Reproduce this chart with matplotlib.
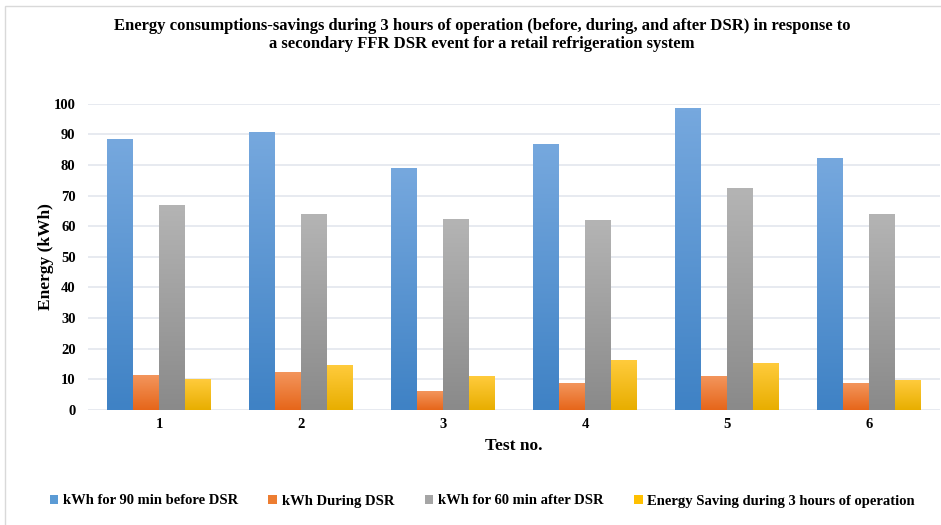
import numpy as np
import matplotlib
matplotlib.use("Agg")
import matplotlib.pyplot as plt
from matplotlib.colors import LinearSegmentedColormap
from matplotlib.patches import Rectangle, Patch

plt.rcParams['font.family'] = ['Liberation Serif', 'DejaVu Serif']
plt.rcParams['font.weight'] = 'bold'

tests = ['1', '2', '3', '4', '5', '6']
before_90 = [88.4, 90.7, 79.0, 86.7, 98.5, 82.0]
during = [11.4, 12.1, 5.9, 8.5, 11.0, 8.5]
after_60 = [66.9, 63.9, 62.3, 62.0, 72.2, 63.9]
saving = [9.8, 14.4, 10.8, 16.0, 15.3, 9.6]

series = [before_90, during, after_60, saving]
labels = ['kWh for 90 min before DSR', 'kWh During DSR',
          'kWh for 60 min after DSR', 'Energy Saving during 3 hours of operation']
# top / bottom colour of each bar gradient
grads = [('#76a8de', '#3f82c5'),
         ('#f3955c', '#e6661a'),
         ('#b4b4b4', '#8a8a8a'),
         ('#ffcb3c', '#e8ae00')]
solid = ['#5b9bd5', '#ed7d31', '#a5a5a5', '#ffc000']

fig = plt.figure(figsize=(9.41, 5.25), dpi=100)
W, H = 941, 525
ax = fig.add_axes([88 / W, (H - 410) / H, (940 - 88) / W, (410 - 103.7) / H])

x = np.arange(1, len(tests) + 1)
bw = 0.183
for i, (vals, (top, bot)) in enumerate(zip(series, grads)):
    cmap = LinearSegmentedColormap.from_list('g%d' % i, [bot, top])
    offs = (i - 1.5) * bw
    for xi, v in zip(x, vals):
        x0 = xi + offs - bw / 2
        grad = np.linspace(0, 1, 100).reshape(-1, 1)
        ax.imshow(grad, extent=[x0, x0 + bw, 0, v], origin='lower',
                  aspect='auto', cmap=cmap, zorder=3, interpolation='bicubic')

ax.set_xlim(0.5, 6.5)
ax.set_ylim(0, 100)
ax.set_yticks(range(0, 101, 10))
ax.set_xticks(x)
ax.set_xticklabels(tests)
ax.grid(axis='y', color='#e3e6ed', lw=1.2, zorder=0)
ax.set_axisbelow(True)
for s in ax.spines.values():
    s.set_visible(False)
ax.tick_params(length=0, labelsize=10.5)
ax.tick_params(axis='y', pad=9)
ax.tick_params(axis='x', pad=6)
ax.set_ylabel('Energy (kWh)', fontsize=12.5, fontweight='bold', labelpad=0)
ax.set_xlabel('Test no.', fontsize=12.5, fontweight='bold', labelpad=5)

fig.text(482 / W, 1 - 26 / H,
         'Energy consumptions-savings during 3 hours of operation (before, during, and after DSR) in response to',
         ha='center', va='center', fontsize=12, fontweight='bold')
fig.text(482 / W, 1 - 44 / H,
         'a secondary FFR DSR event for a retail refrigeration system',
         ha='center', va='center', fontsize=12, fontweight='bold')

handles = [Patch(facecolor=c, edgecolor='none') for c in solid]
fig.legend(handles, labels, loc='center', bbox_to_anchor=(482 / W, 1 - 501 / H),
           ncol=4, frameon=False, fontsize=10.5, handlelength=0.6, handleheight=0.6,
           handletextpad=0.3, columnspacing=2.1)

# outer chart frame
fig.patches.append(Rectangle((5 / W, -0.1), 2, 1.1 - 6 / H, transform=fig.transFigure,
                             fill=False, edgecolor='#d9d9d9', lw=1))

fig.savefig('out.png', dpi=100)
